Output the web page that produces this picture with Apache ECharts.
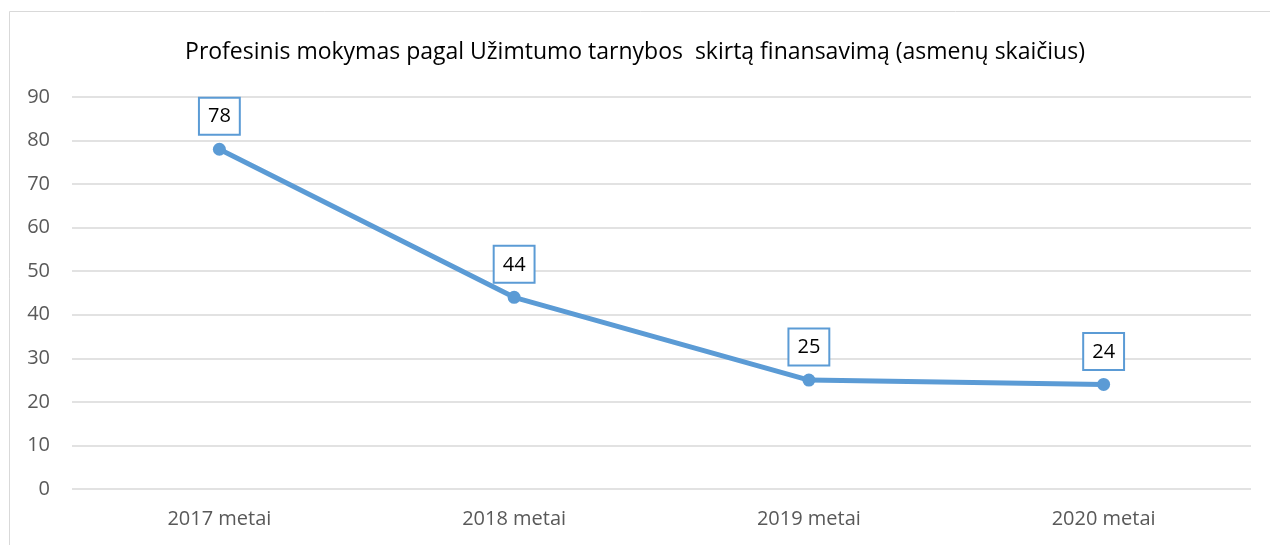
<!DOCTYPE html>
<html>
<head>
<meta charset="utf-8">
<script src="https://cdn.jsdelivr.net/npm/echarts@6/dist/echarts.min.js"></script>
<style>
  html, body { margin: 0; padding: 0; background: #ffffff; }
  #chart { width: 1270px; height: 545px; }
</style>
</head>
<body>
<div id="chart"></div>
<script>
const titleText = "Profesinis mokymas pagal Užimtumo tarnybos  skirtą finansavimą (asmenų skaičius)";
const years = ["2017 metai", "2018 metai", "2019 metai", "2020 metai"];
const persons = [78, 44, 25, 24];

const chart = echarts.init(document.getElementById("chart"), null, { renderer: "canvas" });
const font = "'Open Sans', 'Noto Sans', sans-serif";

chart.setOption({
  animation: false,
  textStyle: { fontFamily: font },
  title: {
    text: titleText,
    left: "center",
    top: 36,
    textStyle: { fontFamily: font, fontSize: 23, fontWeight: "normal", color: "#000000" },
  },
  graphic: [{
    type: "rect",
    shape: { x: 9.5, y: 11.5, width: 1300, height: 600 },
    style: { fill: "none", stroke: "#d9d9d9", lineWidth: 1 },
    silent: true,
  }],
  grid: { left: 72, right: 19, top: 97, bottom: 56 },
  xAxis: {
    type: "category",
    data: years,
    axisLine: { show: false },
    axisTick: { show: false },
    axisLabel: { color: "#595959", fontSize: 20, margin: 20, fontFamily: font },
  },
  yAxis: {
    type: "value",
    min: 0,
    max: 90,
    interval: 10,
    axisLine: { show: false },
    axisTick: { show: false },
    axisLabel: { color: "#595959", fontSize: 20, margin: 22, fontFamily: font },
    splitLine: { lineStyle: { color: "#d9d9d9", width: 1.5 } },
  },
  series: [{
    type: "line",
    data: persons,
    symbol: "circle",
    symbolSize: 13,
    lineStyle: { color: "#5b9bd5", width: 5 },
    itemStyle: { color: "#5b9bd5" },
    label: {
      show: true,
      position: "top",
      distance: 9,
      color: "#000000",
      fontSize: 20,
      fontFamily: font,
      backgroundColor: "#ffffff",
      borderColor: "#5b9bd5",
      borderWidth: 2,
      padding: [8, 8, 7, 8],
    },
  }],
});
</script>
</body>
</html>
